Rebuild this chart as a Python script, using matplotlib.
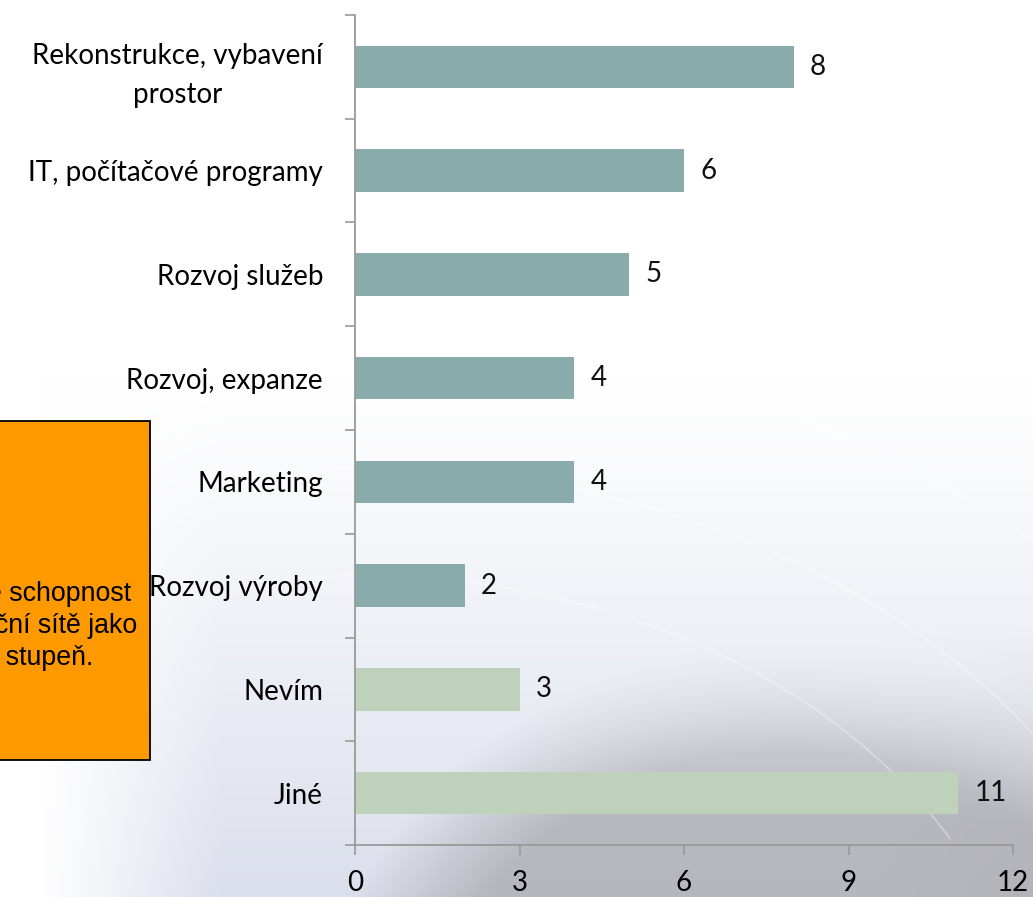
import numpy as np
import matplotlib
matplotlib.use("Agg")
import matplotlib.pyplot as plt
from matplotlib.patches import Rectangle

categories = ["Rekonstrukce, vybavení\nprostor", "IT, počítačové programy", "Rozvoj služeb",
              "Rozvoj, expanze", "Marketing", "Rozvoj výroby", "Nevím", "Jiné"]
values = [8, 6, 5, 4, 4, 2, 3, 11]
bar_colors = ["#8aabab"] * 6 + ["#bdd1bb"] * 2
x_ticks = [0, 3, 6, 9, 12]
note_lines = ["e schopnost", "ční sítě jako", "í stupeň."]

W, H = 1033, 897
fig = plt.figure(figsize=(W / 100, H / 100), dpi=100)

# decorative slide background
bg = fig.add_axes([0, 0, 1, 1])
yy, xx = np.mgrid[0:H, 0:W].astype(float)
img = np.ones((H, W, 3))
tint = np.clip((yy - 380) / 520, 0, 1) ** 1.1 * np.clip((xx - 40) / 180, 0, 1)
light = np.array([0.86, 0.875, 0.925])
img = img * (1 - tint[..., None]) + light * tint[..., None]
d = np.hypot((xx - 790) / 1.05, yy - 1110)
disc = np.clip((470 - d) / 110, 0, 1) * np.clip((yy - 600) / 220, 0, 1)
grey = np.array([0.68, 0.68, 0.70])
img = img * (1 - 0.8 * disc[..., None]) + grey * 0.8 * disc[..., None]
right = np.clip((xx - 880) / 200, 0, 1) * np.clip((yy - 620) / 260, 0, 1)
img = img * (1 - 0.45 * right[..., None]) + grey * 0.45 * right[..., None]
bg.imshow(img, extent=[0, W, H, 0], aspect="auto", zorder=0)
for r in (560, 680, 820):
    th = np.linspace(-1.75, -0.5, 200)
    bg.plot(360 + r * np.cos(th) * 1.2, 1080 + r * np.sin(th) * 0.9,
            color="white", lw=1.2, alpha=0.35, zorder=1)
bg.set_xlim(0, W)
bg.set_ylim(H, 0)
bg.axis("off")

# orange note box, partly off the left edge
bg.add_patch(Rectangle((-20, 421), 170, 339, facecolor="#ff9900",
                       edgecolor="black", lw=1.3, zorder=3))
for i, (line, x1) in enumerate(zip(note_lines, [131, 137, 93])):
    bg.text(x1, 594 + i * 32, line, fontsize=19.3, family="Liberation Sans",
            va="center", ha="right", color="black", zorder=4)

ax = fig.add_axes([355 / W, 52 / H, (1013 - 355) / W, (845 - 15) / H])
ax.patch.set_alpha(0)
pos = np.arange(len(categories))
ax.barh(pos, values, height=0.41, color=bar_colors)
ax.set_ylim(len(categories) - 0.5, -0.5)
ax.set_xlim(0, 12)

for p, v in zip(pos, values):
    ax.text(v + 0.3, p, str(v), va="center", ha="left",
            fontsize=20, family="Lato", color="#111111")

ax.set_yticks(pos)
ax.set_yticklabels(categories, fontsize=20, family="Lato", ha="right",
                   multialignment="center", linespacing=1.6)
ax.set_yticks(np.arange(-0.5, len(categories)), minor=True)
ax.tick_params(axis="y", which="major", length=0, pad=23)
ax.tick_params(axis="y", which="minor", length=7, color="#999999", width=1.2)
ax.set_xticks(x_ticks)
ax.set_xticklabels([str(t) for t in x_ticks], fontsize=20, family="Lato")
ax.tick_params(axis="x", length=7, color="#999999", width=1.2, pad=11)

for s in ("top", "right"):
    ax.spines[s].set_visible(False)
for s in ("left", "bottom"):
    ax.spines[s].set_color("#999999")
    ax.spines[s].set_linewidth(1.3)

fig.savefig("out.png", dpi=100)
